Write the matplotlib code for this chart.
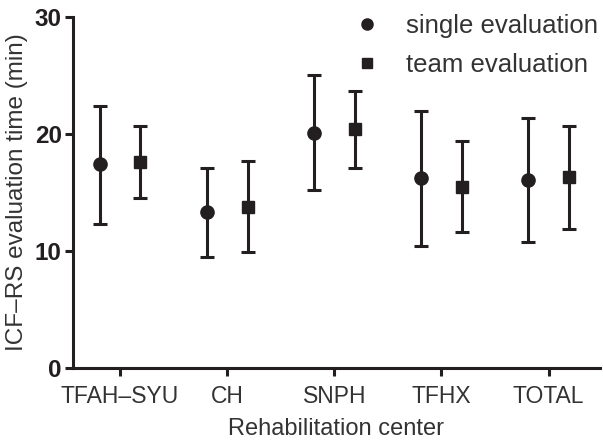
import matplotlib
matplotlib.use("Agg")
import matplotlib.pyplot as plt
from matplotlib.lines import Line2D
import numpy as np

plt.rcParams['font.family'] = ['Liberation Sans', 'DejaVu Sans']

ink = '#231f20'
txt = '#333333'

centers = ["TFAH\u2013SYU", "CH", "SNPH", "TFHX", "TOTAL"]

# mean, lower whisker, upper whisker (min)
single_mean = [17.4, 13.3, 20.1, 16.2, 16.1]
single_low = [12.3, 9.5, 15.2, 10.4, 10.8]
single_high = [22.4, 17.1, 25.0, 22.0, 21.4]

team_mean = [17.6, 13.8, 20.4, 15.5, 16.3]
team_low = [14.5, 9.9, 17.1, 11.6, 11.9]
team_high = [20.7, 17.7, 23.7, 19.4, 20.7]

fig = plt.figure(figsize=(6.03, 4.43), dpi=100)
ax = fig.add_axes([0.121, 0.169, 0.874, 0.793])

x = np.arange(len(centers))
off = 0.19

def draw(xs, mean, low, high, marker, ms):
    mean = np.array(mean); low = np.array(low); high = np.array(high)
    yerr = [mean - low, high - mean]
    ax.errorbar(xs, mean, yerr=yerr, fmt=marker, color=ink, ms=ms,
                elinewidth=2.2, capsize=4.7, capthick=2.2, clip_on=False)

draw(x - off, single_mean, single_low, single_high, 'o', 9.5)
draw(x + off, team_mean, team_low, team_high, 's', 8.5)

ax.set_ylim(0, 30)
ax.set_xlim(-0.44, 4.48)
ax.set_yticks([0, 10, 20, 30])
ax.set_xticks(x)
ax.set_xticklabels(centers, fontsize=16.5, color=txt)
for t in ax.get_yticklabels():
    t.set_fontweight('bold')
    t.set_fontsize(17.5)
    t.set_color(ink)

for s in ['top', 'right']:
    ax.spines[s].set_visible(False)
for s in ['left', 'bottom']:
    ax.spines[s].set_linewidth(2.2)
    ax.spines[s].set_color(ink)
ax.tick_params(width=2.2, length=6, color=ink)
ax.tick_params(axis='x', pad=6)
ax.tick_params(axis='y', pad=2)

ax.set_xlabel("Rehabilitation center", fontsize=17, color=txt, labelpad=7)
ax.set_ylabel("ICF\u2013RS evaluation time (min)", fontsize=17.5, color=txt, labelpad=5)

handles = [Line2D([], [], ls='none', marker='o', ms=8, color=ink),
           Line2D([], [], ls='none', marker='s', ms=7.5, color=ink)]
leg = ax.legend(handles, ["single evaluation", "team evaluation"],
                loc='upper right', bbox_to_anchor=(1.04, 1.075), frameon=False,
                fontsize=18.5, handletextpad=1.0, labelspacing=0.6,
                handlelength=1.0, numpoints=1)
for t in leg.get_texts():
    t.set_color(txt)

fig.savefig("out.png", dpi=100)
